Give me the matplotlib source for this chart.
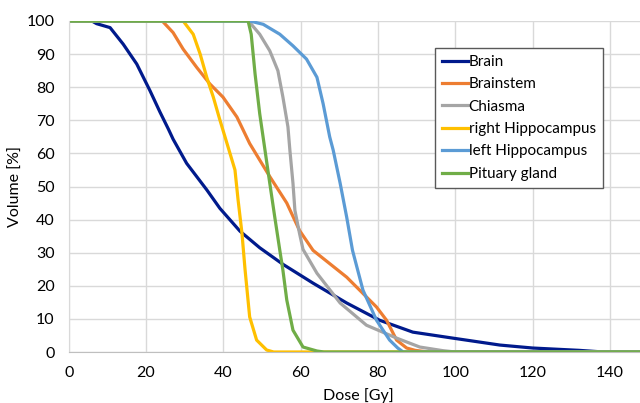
import numpy as np
import matplotlib
matplotlib.use('Agg')
import matplotlib.pyplot as plt

plt.rcParams['font.family'] = ['Lato', 'DejaVu Sans']

# dose volume histogram
brain_dose = [0, 6, 7.2, 10.7, 14.1, 17.6, 21, 23.6, 25.8, 27, 30.5, 35.7, 39.1, 44.3,
              49.4, 55.4, 63.2, 71.9, 80.4, 89, 99.3, 111.5, 120, 132, 137, 150]
brain_vol = [100, 100, 99.2, 98, 93, 87, 79, 72.5, 67.3, 64.3, 57, 49, 43.4, 36.5,
             31.5, 26.5, 20.8, 14.8, 9.6, 6, 4.2, 2.1, 1.2, 0.5, 0.1, 0]

brainstem_dose = [0, 24.2, 27, 29.6, 33.1, 36.5, 39.9, 43.5, 46.8, 52, 56.4, 59.7, 63.2,
                  71.9, 79.6, 82.2, 84.8, 87.4, 89.6, 93, 150]
brainstem_vol = [100, 100, 96.5, 91.5, 86, 81, 77, 71, 63, 53, 45, 36.7, 30.7,
                 22.6, 13.6, 9.6, 3.6, 1.2, 0.5, 0, 0]

chiasma_dose = [0, 46.5, 49.4, 52, 54.1, 55.4, 56.7, 57.2, 58, 58.5, 59.7, 60.6, 64.2,
                70.2, 77, 84.8, 90.8, 96.8, 100, 150]
chiasma_vol = [100, 100, 96, 91, 85, 77, 68, 61, 51, 42.8, 35.8, 31, 23.8,
               14.8, 8.1, 4.2, 1.5, 0.4, 0, 0]

rhippo_dose = [0, 29.6, 32.2, 34, 35.7, 37.4, 39, 41.2, 43, 43.8, 44.8, 45.6, 46.8,
               48.6, 51.2, 53, 150]
rhippo_vol = [100, 100, 96, 90, 83, 77, 70.5, 62, 55, 46, 36, 25, 10.6,
              3.6, 0.6, 0, 0]

lhippo_dose = [0, 46.8, 50.3, 54.6, 58, 61.5, 64.2, 65.8, 67.5, 68.4, 70.2, 71.9, 73.4,
               76.1, 79.6, 83, 85.1, 86.5, 150]
lhippo_vol = [100, 100, 99, 96, 92.5, 88.5, 83, 75, 65, 61, 51, 40.7, 30.7,
              18.7, 9.6, 3.6, 1.2, 0, 0]

pituitary_dose = [0, 46.4, 47.2, 48.2, 49.4, 50.7, 52, 53.3, 54.6, 55.4, 56.4, 58,
                  60.6, 64.2, 66, 150]
pituitary_vol = [100, 100, 96, 84, 72, 61.5, 51, 40.7, 30.7, 24.7, 15.7, 6.6,
                 1.5, 0.3, 0, 0]

series = [
    ('Brain', brain_dose, brain_vol, '#001a8c'),
    ('Brainstem', brainstem_dose, brainstem_vol, '#ED7D31'),
    ('Chiasma', chiasma_dose, chiasma_vol, '#A5A5A5'),
    ('right Hippocampus', rhippo_dose, rhippo_vol, '#FFC000'),
    ('left Hippocampus', lhippo_dose, lhippo_vol, '#5B9BD5'),
    ('Pituary gland', pituitary_dose, pituitary_vol, '#70AD47'),
]

fig = plt.figure(figsize=(6.4, 4.03), dpi=100)
# axes run a bit past the right edge, as in the cropped original
ax = fig.add_axes([68.7 / 640, 51 / 403, 580 / 640, 331 / 403])

for name, d, v, c in series:
    ax.plot(d, v, color=c, lw=2.3, label=name, solid_joinstyle='round')

ax.set_xlim(0, 150)
ax.set_ylim(0, 100)
ax.set_xticks(np.arange(0, 160, 20))
ax.set_yticks(np.arange(0, 110, 10))
ax.grid(True, color='#D9D9D9', lw=1)
ax.set_axisbelow(True)
for s in ['top', 'right']:
    ax.spines[s].set_visible(False)
ax.spines['left'].set_color('#D9D9D9')
ax.spines['bottom'].set_color('#BFBFBF')
ax.tick_params(length=0, labelsize=11.5, colors='black')
ax.tick_params(axis='y', pad=10)
ax.tick_params(axis='x', pad=10)

ax.set_xlabel('Dose [Gy]', fontsize=11.5, labelpad=6)
ax.set_ylabel('Volume [%]', fontsize=11.5, labelpad=3)

leg = ax.legend(loc='upper left', bbox_to_anchor=(435 / 640, 1 - 48 / 403),
                bbox_transform=fig.transFigure, fontsize=11, frameon=True,
                fancybox=False, edgecolor='#595959', handlelength=1.7,
                handletextpad=0.05, labelspacing=0.55, borderaxespad=0,
                borderpad=0.45)
leg.get_frame().set_linewidth(1)
leg.get_frame().set_alpha(1)

fig.savefig('out.png', dpi=100)
